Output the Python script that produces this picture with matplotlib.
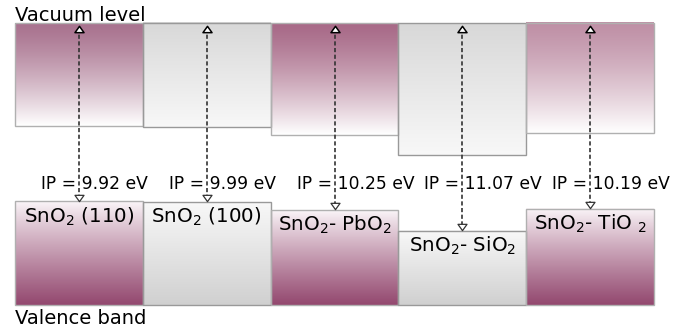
import matplotlib.pyplot as plt
import numpy as np
from matplotlib.colors import LinearSegmentedColormap
from matplotlib.patches import Rectangle
from matplotlib.path import Path


# Data (diagram levels, measured downwards from the top of the picture)
materials = ['SnO$_2$ (110)', 'SnO$_2$ (100)', 'SnO$_2$- PbO$_2$',
             'SnO$_2$- SiO$_2$', 'SnO$_2$- TiO $_2$']
ip_values = [9.92, 9.99, 10.25, 11.07, 10.19]
vacuum_level = 23
vacuum_box_bottom = [125.7, 127.3, 134.7, 155.0, 133.3]
valence_top = [201.3, 202.0, 210.0, 230.7, 208.7]
valence_bottom = 305
kinds = ['purple', 'gray', 'purple', 'gray', 'purple']
upper_colors = ['#a9738f', '#d8d8d8', '#a86a88', '#d8d8d8', '#bf90a6']


def gradient(ax, x0, x1, ytop, ybot, c_top, c_bot, gamma=1.0):
    cmap = LinearSegmentedColormap.from_list('g', [c_top, c_bot])
    g = (np.linspace(0, 1, 256) ** gamma).reshape(-1, 1)
    ax.imshow(g, extent=(x0, x1, ybot, ytop), aspect='auto', cmap=cmap,
              vmin=0, vmax=1, origin='upper', interpolation='bilinear', zorder=1)


def triangle(up=True):
    s = 1 if up else -1
    return Path([(-1, -0.7 * s), (1, -0.7 * s), (0, 0.7 * s), (-1, -0.7 * s)], closed=True)


def plot_diagram():
    fig = plt.figure(figsize=(6.84, 3.31), dpi=100)
    ax = fig.add_axes([0, 0, 1, 1])

    for i, name in enumerate(materials):
        x0, x1 = i, i + 1
        if kinds[i] == 'purple':
            gradient(ax, x0, x1, vacuum_level, vacuum_box_bottom[i],
                     upper_colors[i], '#ffffff', 1.3)
            gradient(ax, x0, x1, valence_top[i], valence_bottom,
                     '#fbf6f9', '#93486f', 0.9)
            ec = '#b0b0b0'
        else:
            gradient(ax, x0, x1, vacuum_level, vacuum_box_bottom[i],
                     upper_colors[i], '#f8f8f8')
            gradient(ax, x0, x1, valence_top[i], valence_bottom,
                     '#f8f8f8', '#d0d0d0')
            ec = '#999999'
        ax.add_patch(Rectangle((x0, vacuum_level), 1, vacuum_box_bottom[i] - vacuum_level,
                               fill=False, ec=ec, lw=1.0, zorder=2))
        ax.add_patch(Rectangle((x0, valence_top[i]), 1, valence_bottom - valence_top[i],
                               fill=False, ec=ec, lw=1.0, zorder=2))

        # IP arrow
        xc = i + 0.5
        ax.plot([xc, xc], [vacuum_level + 5, valence_top[i] - 5], color='#333333',
                lw=1.2, ls=(0, (2.5, 1.5)), zorder=3)
        ax.plot(xc, vacuum_level + 5.5, marker=triangle(True), ms=6.5, mfc='white',
                mec='black', mew=1.1, ls='none', zorder=4)
        ax.plot(xc, valence_top[i] - 3.8, marker=triangle(False), ms=6.5,
                mfc='white', mec='#333333', mew=0.9, ls='none', zorder=4)

        ax.text(xc - 0.297, 189.3, 'IP = %.2f eV' % ip_values[i], fontsize=12.3,
                ha='left', va='baseline', zorder=5)
        ax.text(xc, valence_top[i] + 21, name, fontsize=14.3, ha='center',
                va='baseline', zorder=5)

    ax.text(0, 21, 'Vacuum level', fontsize=14, ha='left', va='baseline')
    ax.text(0, 324, 'Valence band', fontsize=14, ha='left', va='baseline')

    unit = (654 - 15) / 5.0
    ax.set_xlim(-15 / unit, (684 - 15) / unit)
    ax.set_ylim(331, 0)
    ax.axis('off')

    fig.savefig('out.png', dpi=100)


if __name__ == '__main__':
    plot_diagram()
